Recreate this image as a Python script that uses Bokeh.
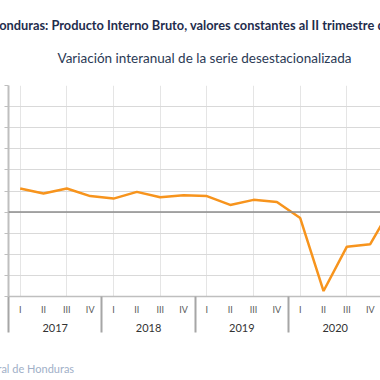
from bokeh.plotting import figure
from bokeh.models import (Range1d, LinearAxis, FixedTicker, Grid, Span, Title, ColumnDataSource)
from bokeh.embed import file_html
from bokeh.resources import INLINE

# ---- data ----
years = ["2017", "2018", "2019", "2020", "2021"]
quarters = ["I", "II", "III", "IV"]
values = [5.6, 4.4, 5.6, 3.8,
          3.2, 4.8, 3.5, 4.0,
          3.8, 1.7, 2.9, 2.4,
          -1.4, -18.7, -8.2, -7.6,
          2.0]
y_ticks = [-20, -15, -10, -5, 0, 5, 10, 15, 20, 25, 30]

title_text = "Honduras: Producto Interno Bruto, valores constantes al II trimestre de 2021"
subtitle_text = "Variación interanual de la serie desestacionalizada"
source_text = "Fuente: Banco Central de Honduras"

FONT = "Lato"
idx = list(range(len(values)))
src = ColumnDataSource(dict(x=idx, y=values))

p = figure(width=380, height=380, output_backend="svg", toolbar_location=None,
           x_range=Range1d(-0.5, 15.44), y_range=Range1d(-20, 30),
           x_axis_location=None, y_axis_location=None,
           min_border_left=8, min_border_right=0, min_border_top=85, min_border_bottom=84)
p.outline_line_color = None
p.background_fill_color = "white"
p.border_fill_color = "white"

grid = Grid(dimension=1, ticker=FixedTicker(ticks=y_ticks),
            grid_line_color="#d9d9d9", grid_line_width=1)
p.add_layout(grid)

p.add_layout(Span(location=0, dimension="width", line_color="#8c8c8c", line_width=1.5))

p.line("x", "y", source=src, line_color="#f7941d", line_width=2.5)

# left value axis (labels lie outside the visible crop)
ya = LinearAxis(ticker=FixedTicker(ticks=y_ticks),
                major_label_overrides={t: "" for t in y_ticks})
ya.axis_line_color = "#bfbfbf"
ya.axis_line_width = 2
ya.major_tick_line_color = "#bfbfbf"
ya.major_tick_out = 4
ya.major_tick_in = 0
ya.minor_tick_line_color = None
ya.major_label_standoff = 0
p.add_layout(ya, "left")

q_ticks = idx
q_over = {i: quarters[i % 4] for i in q_ticks}
bounds = [4 * k - 0.5 for k in range(len(years) + 1)]
xq = LinearAxis(ticker=FixedTicker(ticks=q_ticks, minor_ticks=bounds),
                major_label_overrides=q_over)
xq.axis_line_color = "#bfbfbf"
xq.axis_line_width = 1.5
xq.major_tick_line_color = None
xq.major_tick_in = 0
xq.major_tick_out = 0
xq.minor_tick_in = 0
xq.minor_tick_out = 36
xq.minor_tick_line_color = "#a6a6a6"
xq.minor_tick_line_width = 2
xq.major_label_standoff = -29
xq.major_label_text_font = FONT
xq.major_label_text_font_size = "9px"
xq.major_label_text_color = "#595959"
p.add_layout(xq, "below")

y_centers = [4 * k + 1.5 for k in range(len(years))]
xy = LinearAxis(ticker=FixedTicker(ticks=y_centers),
                major_label_overrides={c: yr for c, yr in zip(y_centers, years)})
xy.axis_line_color = None
xy.major_tick_line_color = None
xy.minor_tick_line_color = None
xy.major_tick_in = 0
xy.major_tick_out = 0
xy.major_label_standoff = 6
xy.major_label_text_font = FONT
xy.major_label_text_font_size = "11px"
xy.major_label_text_color = "#333333"
p.add_layout(xy, "below")

# spacer between the year labels and the source line
p.add_layout(Title(text=" ", text_font_size="1px", standoff=21), "below")
p.add_layout(Title(text=source_text, align="left", offset=-106, text_font=FONT,
                   text_font_size="11px", text_font_style="normal",
                   text_color="#9fb0c8", standoff=2), "below")

p.add_layout(Title(text=subtitle_text, align="left", offset=49, text_font=FONT,
                   text_font_size="13.5px", text_font_style="normal",
                   text_color="#2b3a55", standoff=39), "above")
p.add_layout(Title(text=title_text, align="left", offset=-19, text_font=FONT,
                   text_font_size="12.8px", text_font_style="bold",
                   text_color="#1f2d4d", standoff=-9), "above")

open("out.html", "w").write(file_html(p, INLINE))
